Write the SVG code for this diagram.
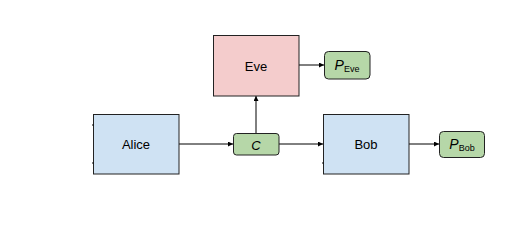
<svg xmlns="http://www.w3.org/2000/svg" width="523" height="225" viewBox="0 0 523 225">
<style>
.box{stroke:#222;stroke-width:1}
.blue{fill:#cfe2f3}
.pink{fill:#f4cccc}
.green{fill:#b6d7a8}
.lbl{font-family:"Liberation Sans",Arial,sans-serif;font-size:13px;fill:#000;text-anchor:middle;dominant-baseline:central}
.it{font-style:italic}
.sub{font-size:9px;font-style:normal}
.conn{stroke:#000;stroke-width:1;fill:none}
</style>
<defs>
<marker id="ah" viewBox="0 0 6 6" refX="6" refY="3" markerWidth="5" markerHeight="5" orient="auto" markerUnits="userSpaceOnUse">
<path d="M0,0 L6,3 L0,6 z" fill="#000"/>
</marker>
</defs>
<rect width="523" height="225" fill="#fff"/>
<g id="connectors">
<line class="conn" x1="179" y1="144" x2="233" y2="144" marker-end="url(#ah)"/>
<line class="conn" x1="256" y1="133" x2="256" y2="96" marker-end="url(#ah)"/>
<line class="conn" x1="299" y1="65" x2="324" y2="65" marker-end="url(#ah)"/>
<line class="conn" x1="279" y1="144" x2="323" y2="144" marker-end="url(#ah)"/>
<line class="conn" x1="409" y1="144" x2="439" y2="144" marker-end="url(#ah)"/>
</g>
<g id="alice">
<rect class="box blue" x="93.5" y="114.5" width="85.5" height="59.5"/>
<line class="conn" x1="92" y1="125" x2="93.5" y2="125"/>
<line class="conn" x1="92" y1="163" x2="93.5" y2="163"/>
<text class="lbl" x="136" y="144">Alice</text>
</g>
<g id="c">
<rect class="box green" x="233.5" y="133.5" width="45.5" height="21.5" rx="3"/>
<text class="lbl it" x="256" y="145">C</text>
</g>
<g id="eve">
<rect class="box pink" x="213.5" y="35.5" width="85.5" height="60.5"/>
<text class="lbl" x="256" y="66">Eve</text>
</g>
<g id="peve">
<rect class="box green" x="324.5" y="51.5" width="45.5" height="27.5" rx="4"/>
<text class="lbl" x="347" y="65"><tspan class="it" font-size="14">P</tspan><tspan class="sub" dy="4">Eve</tspan></text>
</g>
<g id="bob">
<rect class="box blue" x="323.5" y="114.5" width="85.5" height="59.5"/>
<line class="conn" x1="322" y1="163" x2="323.5" y2="163"/>
<text class="lbl" x="366" y="144">Bob</text>
</g>
<g id="pbob">
<rect class="box green" x="439.5" y="131.5" width="45" height="26" rx="4"/>
<text class="lbl" x="462" y="144"><tspan class="it" font-size="14">P</tspan><tspan class="sub" dy="4">Bob</tspan></text>
</g>
</svg>
